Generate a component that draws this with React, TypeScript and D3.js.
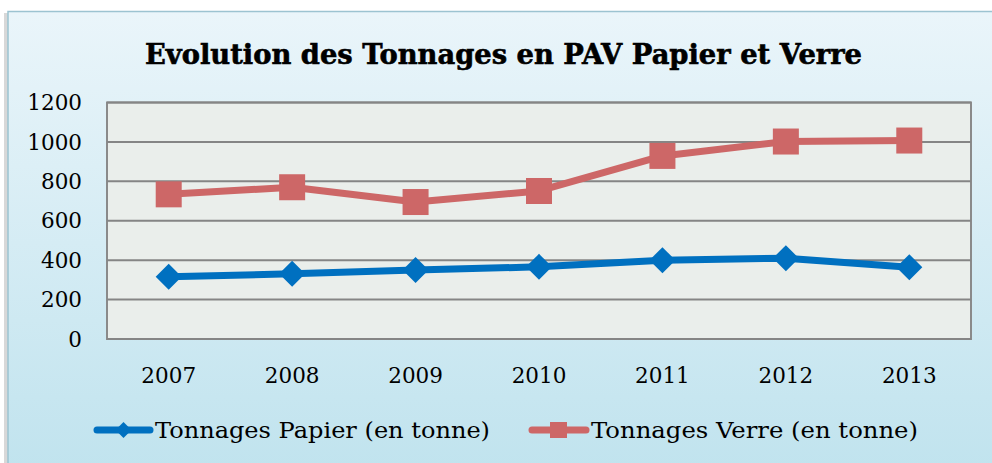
import React from 'react';
import * as d3 from 'd3';

const years = ['2007', '2008', '2009', '2010', '2011', '2012', '2013'];
const papier = [316, 331, 350, 366, 400, 410, 364];
const verre = [734, 770, 695, 751, 929, 1002, 1007];
const yTicks = [0, 200, 400, 600, 800, 1000, 1200];

const FONT = '"DejaVu Serif", serif';

const App = () => {
  const W = 992;
  const H = 463;
  const plot = { left: 107, right: 971, top: 102.5, bottom: 339 };

  const x = d3.scaleBand().domain(years).range([plot.left, plot.right]);
  const y = d3.scaleLinear().domain([0, 1200]).range([plot.bottom, plot.top]);
  const cx = (d: string) => (x(d) as number) + x.bandwidth() / 2;

  const line = d3.line<number>()
    .x((_, i) => cx(years[i]))
    .y(d => y(d));

  const diamond = (px: number, py: number, r: number) =>
    `M${px - r},${py} L${px},${py - r} L${px + r},${py} L${px},${py + r} Z`;

  return (
    <svg width={W} height={H} style={{ position: 'absolute', left: 0, top: 0 }}>
      <defs>
        <linearGradient id="bg" x1="0" y1="0" x2="0" y2="1">
          <stop offset="0%" stopColor="#eaf5fa" />
          <stop offset="100%" stopColor="#c0e3ee" />
        </linearGradient>
      </defs>
      <rect x={0} y={0} width={W} height={H} fill="#ffffff" />
      <rect x={4} y={13} width={W} height={H} fill="#d8d8d8" />
      <rect x={8} y={11.5} width={W} height={H} fill="url(#bg)" stroke="#9cc3d1" strokeWidth={1.5} />

      <text x={145} y={64} fontFamily={FONT} fontWeight="bold" fontSize={27.5} fill="#000"
        stroke="#000" strokeWidth={0.6}
        textLength={717} lengthAdjust="spacingAndGlyphs">
        Evolution des Tonnages en PAV Papier et Verre
      </text>

      <rect x={plot.left} y={plot.top} width={plot.right - plot.left} height={plot.bottom - plot.top}
        fill="#eaeeeb" stroke="#8a8a8a" strokeWidth={2} />
      {yTicks.map(t => (
        <g key={t}>
          <line x1={plot.left} x2={plot.right} y1={y(t)} y2={y(t)} stroke="#858585" strokeWidth={2} />
          <text x={82} y={y(t)} dy="0.36em" textAnchor="end" fontFamily={FONT} fontSize={21.5} fill="#000">{t}</text>
        </g>
      ))}
      {years.map(yr => (
        <text key={yr} x={cx(yr)} y={383} textAnchor="middle" fontFamily={FONT} fontSize={21.5} fill="#000">{yr}</text>
      ))}

      <path d={line(verre) as string} fill="none" stroke="#cd6767" strokeWidth={7} strokeLinejoin="round" />
      {verre.map((v, i) => (
        <rect key={i} x={cx(years[i]) - 13} y={y(v) - 13} width={26} height={26} fill="#cd6767" />
      ))}

      <path d={line(papier) as string} fill="none" stroke="#0070c0" strokeWidth={7} strokeLinejoin="round" />
      {papier.map((v, i) => (
        <path key={i} d={diamond(cx(years[i]), y(v), 13)} fill="#0070c0" />
      ))}

      <g>
        <line x1={97} x2={150} y1={430} y2={430} stroke="#0070c0" strokeWidth={7} strokeLinecap="round" />
        <path d={diamond(123.5, 430, 8)} fill="#0070c0" />
        <text x={155} y={430} dy="0.36em" fontFamily={FONT} fontSize={22} fill="#000"
          textLength={335} lengthAdjust="spacingAndGlyphs">Tonnages Papier (en tonne)</text>
        <line x1={532} x2={586} y1={430} y2={430} stroke="#cd6767" strokeWidth={7} strokeLinecap="round" />
        <rect x={550} y={422} width={17} height={16} fill="#cd6767" />
        <text x={591} y={430} dy="0.36em" fontFamily={FONT} fontSize={22} fill="#000"
          textLength={327} lengthAdjust="spacingAndGlyphs">Tonnages Verre (en tonne)</text>
      </g>
    </svg>
  );
};

export default App;
